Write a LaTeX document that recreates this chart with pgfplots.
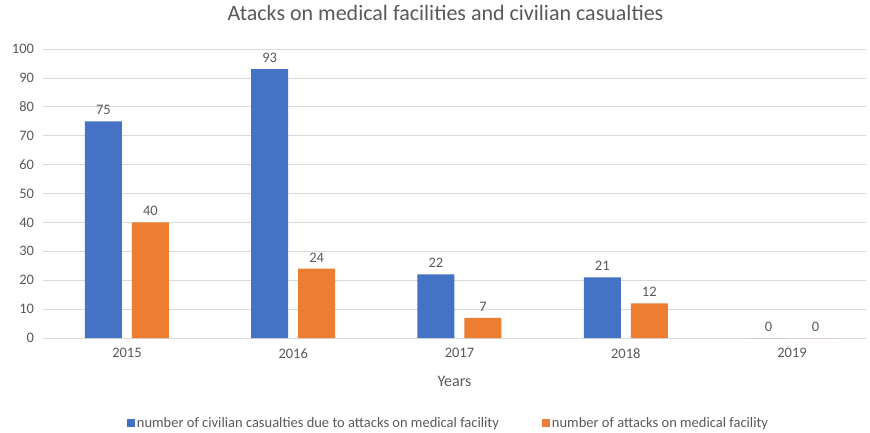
\documentclass[border=0pt]{standalone}
\usepackage{fontspec}
\setmainfont{Carlito}
\usepackage{pgfplots}
\pgfplotsset{compat=1.18}
\definecolor{cblue}{HTML}{4472C4}
\definecolor{corange}{HTML}{ED7D31}
\definecolor{tgray}{HTML}{595959}
\definecolor{ggray}{HTML}{D9D9D9}
\begin{document}
\begin{tikzpicture}[x=1pt,y=1pt]
\useasboundingbox (-43,-94) rectangle (827,338);
\begin{axis}[
  at={(0,0)}, anchor=south west,
  scale only axis, width=823pt, height=289pt,
  ymin=0, ymax=100, ytick={0,10,...,100},
  xmin=-0.505, xmax=4.445, xtick={0,1,2,3,4},
  xticklabels={2015,2016,2017,2018,2019},
  ybar=10pt, bar width=37pt,
  axis x line*=bottom, axis y line*=left,
  y axis line style={draw=none},
  x axis line style={draw=ggray},
  major tick length=0pt,
  ymajorgrids, grid style={ggray, line width=0.8pt},
  /pgf/number format/assume math mode=true,
  ticklabel style={font=\fontsize{14.5}{16}\selectfont, text=tgray},
  yticklabel style={xshift=-5.5pt},
  xticklabel style={yshift=-7pt},
  xlabel={Years},
  xlabel style={at={(axis description cs:0.5,0)}, anchor=center, yshift=-43pt, font=\fontsize{16}{18}\selectfont, text=tgray},
  title={Atacks on medical facilities and civilian casualties},
  title style={at={(axis description cs:0.5,1)}, anchor=center, yshift=30pt, xshift=-9pt, font=\fontsize{22}{26}\selectfont, text=tgray},
  nodes near coords,
  every node near coord/.append style={font=\fontsize{14.5}{16}\selectfont, text=tgray, yshift=3pt},
  legend style={at={(axis description cs:0.5,0)}, anchor=center, yshift=-85pt, xshift=-6pt, draw=none, fill=none,
    legend columns=2, font=\fontsize{14.5}{16}\selectfont, text=tgray,
    /tikz/every even column/.append style={column sep=41pt}},
  legend image code/.code={\fill[#1] (0pt,-4pt) rectangle (8pt,4pt);},
]
\addplot[fill=cblue, draw=none] coordinates {(0,75) (1,93) (2,22) (3,21) (4,0)};
\addplot[fill=corange, draw=none] coordinates {(0,40) (1,24) (2,7) (3,12) (4,0)};
\legend{number of civilian casualties due to attacks on medical facility, number of attacks on medical facility}
\end{axis}
\end{tikzpicture}
\end{document}
